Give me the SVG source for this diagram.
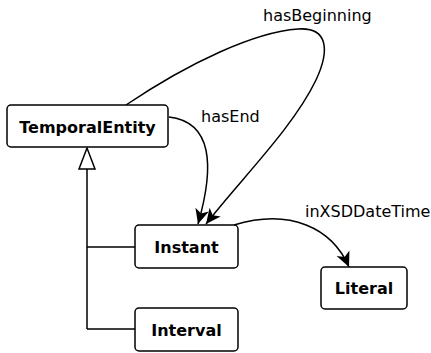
<svg xmlns="http://www.w3.org/2000/svg" width="431" height="353" viewBox="0 0 431 353">
<style>
.box{fill:#fff;stroke:#000;stroke-width:1.5}
.lbl{font-family:"DejaVu Sans",sans-serif;font-size:16px;font-weight:bold;text-anchor:middle}
.el{font-family:"DejaVu Sans",sans-serif;font-size:16px}
.c{fill:none;stroke:#000;stroke-width:1.5}
</style>
<defs>
<marker id="ah" markerUnits="userSpaceOnUse" markerWidth="20" markerHeight="20" refX="16" refY="8" orient="auto" viewBox="0 0 20 20">
<path d="M16,8 L1,1 L5,8 L1,15 z" fill="#000"/>
</marker>
</defs>
<g id="connectors">
<path class="c" d="M87,169 V329 M87,247 H135 M87,329 H135"/>
<path d="M87,148 L79,169 H95 z" fill="#fff" stroke="#000" stroke-width="1.5"/>
<path class="c" marker-end="url(#ah)" d="M126,105 C190,62 255,32 298,29 C328,27 330,50 316,80 C293,128 240,180 206,224"/>
<path class="c" marker-end="url(#ah)" d="M169,117 C212,122 215,165 198,224"/>
<path class="c" marker-end="url(#ah)" d="M234,225 C290,208 332,228 349,267"/>
<text class="el" x="263" y="21">hasBeginning</text>
<text class="el" x="201" y="122">hasEnd</text>
<text class="el" x="305" y="217">inXSDDateTime</text>
</g>
<g id="TemporalEntity"><rect class="box" x="7" y="105" width="161" height="42" rx="4"/><text class="lbl" x="87.5" y="133">TemporalEntity</text></g>
<g id="Instant"><rect class="box" x="135" y="225" width="103" height="43" rx="4"/><text class="lbl" x="186.5" y="252.5">Instant</text></g>
<g id="Literal"><rect class="box" x="321" y="267" width="86" height="42" rx="4"/><text class="lbl" x="364" y="294">Literal</text></g>
<g id="Interval"><rect class="box" x="135" y="308" width="103" height="43" rx="4"/><text class="lbl" x="186.5" y="335.5">Interval</text></g>
</svg>
